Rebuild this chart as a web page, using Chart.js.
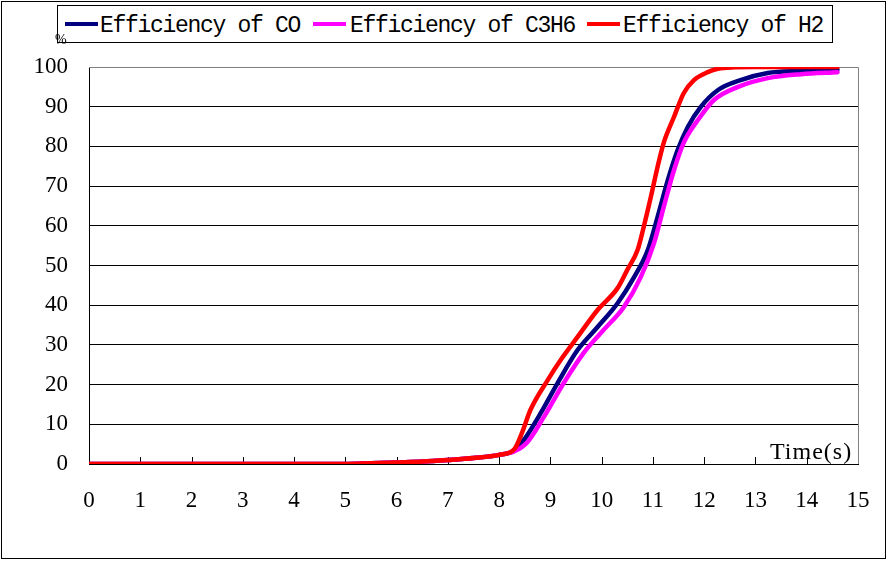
<!DOCTYPE html>
<html>
<head>
<meta charset="utf-8">
<script src="https://cdn.jsdelivr.net/npm/chart.js@4/dist/chart.umd.min.js"></script>
<style>
	body { margin: 0; background: #fff; }
	#wrap { position: relative; width: 888px; height: 564px; }
	#legend {
		position: absolute; left: 57px; top: 5px; width: 774px; height: 36px;
		border: 1px solid #000; background: #fff; z-index: 2;
		font-family: "Liberation Mono", monospace; font-size: 23px; letter-spacing: -1.3px; color: #000;
	}
	.item { position: absolute; top: 7px; line-height: 26px; white-space: pre; }
	.swatch { position: absolute; top: 16px; height: 4px; width: 33px; }
	#pct { position: absolute; left: 55px; top: 32px; font: 14px/16px "Liberation Serif", serif; z-index: 3; }
	#xtitle { position: absolute; left: 770px; top: 438px; font: 24px "Liberation Serif", serif; letter-spacing: 1px; }
</style>
</head>
<body>
<div id="wrap">
	<canvas id="c" width="888" height="564"></canvas>
	<div id="pct">%</div>
	<div id="legend">
		<div class="swatch" style="left:7px;background:#000080"></div>
		<div class="item" style="left:42px">Efficiency of CO</div>
		<div class="swatch" style="left:255px;background:#ff00ff"></div>
		<div class="item" style="left:292px">Efficiency of C3H6</div>
		<div class="swatch" style="left:529px;background:#ff0000"></div>
		<div class="item" style="left:565px">Efficiency of H2</div>
	</div>
	<div id="xtitle">Time(s)</div>
</div>
<script>
// time (s) and efficiency (%)
var timeCO  = [0, 1, 2, 3, 4, 5, 5.5, 6, 6.5, 7, 7.5, 8, 8.3, 8.48, 8.81, 9.14, 9.53, 9.92, 10.31, 10.63, 10.9, 11.09, 11.29, 11.48, 11.68, 11.93, 12.27, 12.71, 13.24, 13.83, 14.6];
var effCO   = [0, 0, 0, 0, 0, 0, 0.2, 0.4, 0.6, 1.0, 1.5, 2.3, 3.4, 6, 12.8, 20.4, 28.7, 34.5, 40.5, 47, 53.9, 62.2, 71.5, 79, 84.9, 89.9, 94.2, 96.7, 98.5, 99, 99.3];

var timeC3H6 = [0, 1, 2, 3, 4, 5, 5.5, 6, 6.5, 7, 7.5, 8, 8.3, 8.55, 8.87, 9.26, 9.65, 10.04, 10.43, 10.76, 11.02, 11.21, 11.41, 11.6, 11.88, 12.19, 12.66, 13.24, 13.89, 14.6];
var effC3H6  = [0, 0, 0, 0, 0, 0, 0.2, 0.4, 0.6, 1.0, 1.5, 2.3, 3.2, 5.5, 11.8, 20.4, 28, 33.8, 39.5, 47, 55.6, 64.7, 74, 80.9, 86.7, 91.7, 95, 97.2, 98.2, 98.7];

var timeH2 = [0, 1, 2, 3, 4, 5, 5.5, 6, 6.5, 7, 7.5, 8, 8.3, 8.45, 8.61, 8.95, 9.2, 9.53, 9.92, 10.31, 10.5, 10.7, 10.82, 10.96, 11.09, 11.21, 11.41, 11.6, 11.8, 12.07, 12.32, 13, 14, 14.6];
var effH2  = [0, 0, 0, 0, 0, 0, 0.2, 0.4, 0.6, 1.0, 1.5, 2.3, 3.8, 8, 13.6, 21.2, 26.2, 32, 38.8, 44.3, 48.9, 53.9, 59.7, 67.3, 74.8, 80.9, 87.4, 93.4, 96.7, 98.7, 99.7, 100, 100, 100];

var xTicks = [0, 1, 2, 3, 4, 5, 6, 7, 8, 9, 10, 11, 12, 13, 14, 15];
var yTicks = [0, 10, 20, 30, 40, 50, 60, 70, 80, 90, 100];

function pts(xs, ys) {
	var out = [];
	for (var i = 0; i < xs.length; i++) out.push({ x: xs[i], y: ys[i] });
	return out;
}

// white page, outer frame, gray plot top/right, inward x ticks
var framePlugin = {
	id: 'frame',
	beforeDraw: function(chart) {
		var ctx = chart.ctx;
		ctx.save();
		ctx.fillStyle = '#fff';
		ctx.fillRect(0, 0, chart.width, chart.height);
		ctx.strokeStyle = '#000';
		ctx.lineWidth = 1;
		ctx.strokeRect(1.5, 1.5, 884, 557);
		ctx.restore();
	},
	beforeDatasetsDraw: function(chart) {
		var ctx = chart.ctx, a = chart.chartArea, xs = chart.scales.x;
		ctx.save();
		ctx.strokeStyle = '#808080';
		ctx.lineWidth = 1;
		ctx.beginPath();
		ctx.moveTo(a.left, a.top + 0.5);
		ctx.lineTo(a.right + 0.5, a.top + 0.5);
		ctx.lineTo(a.right + 0.5, a.bottom);
		ctx.stroke();
		ctx.strokeStyle = '#000';
		ctx.beginPath();
		xTicks.forEach(function(v) {
			if (v === 0 || v === 15) return;
			var px = Math.round(xs.getPixelForValue(v)) + 0.5;
			ctx.moveTo(px, a.bottom);
			ctx.lineTo(px, a.bottom - 7);
		});
		ctx.stroke();
		ctx.restore();
	}
};

var tickFont = { family: '"Liberation Serif", serif', size: 23 };

new Chart(document.getElementById('c'), {
	type: 'line',
	data: {
		datasets: [
			{ label: 'Efficiency of CO', data: pts(timeCO, effCO), borderColor: '#000080', order: 2 },
			{ label: 'Efficiency of C3H6', data: pts(timeC3H6, effC3H6), borderColor: '#ff00ff', order: 1 },
			{ label: 'Efficiency of H2', data: pts(timeH2, effH2), borderColor: '#ff0000', order: 0 }
		]
	},
	options: {
		responsive: false,
		animation: false,
		layout: { padding: { top: 67, right: 30, bottom: 40, left: 0 } },
		elements: {
			point: { radius: 0 },
			line: { borderWidth: 4.5, cubicInterpolationMode: 'monotone', fill: false, borderCapStyle: 'round' }
		},
		plugins: { legend: { display: false }, tooltip: { enabled: false } },
		scales: {
			x: {
				type: 'linear', min: 0, max: 15,
				afterFit: function(s) { s.height = 60; s.paddingLeft = 0; s.paddingRight = 0; },
				afterBuildTicks: function(s) { s.ticks = xTicks.map(function(v) { return { value: v }; }); },
				grid: { display: false, drawTicks: false },
				border: { display: true, color: '#000', width: 1 },
				ticks: { color: '#000', font: tickFont, padding: 23, maxRotation: 0, autoSkip: false }
			},
			y: {
				min: 0, max: 100,
				afterFit: function(s) { s.width = 89; s.paddingTop = 0; s.paddingBottom = 0; },
				afterBuildTicks: function(s) { s.ticks = yTicks.map(function(v) { return { value: v }; }); },
				grid: {
					drawTicks: false,
					color: function(c) {
						if (c.tick.value === 0) return 'rgba(0,0,0,0)';
						if (c.tick.value === 100) return '#808080';
						return '#000';
					}
				},
				border: { display: true, color: '#000', width: 1 },
				ticks: { color: '#000', font: tickFont, padding: 21 }
			}
		}
	},
	plugins: [framePlugin]
});
</script>
</body>
</html>
